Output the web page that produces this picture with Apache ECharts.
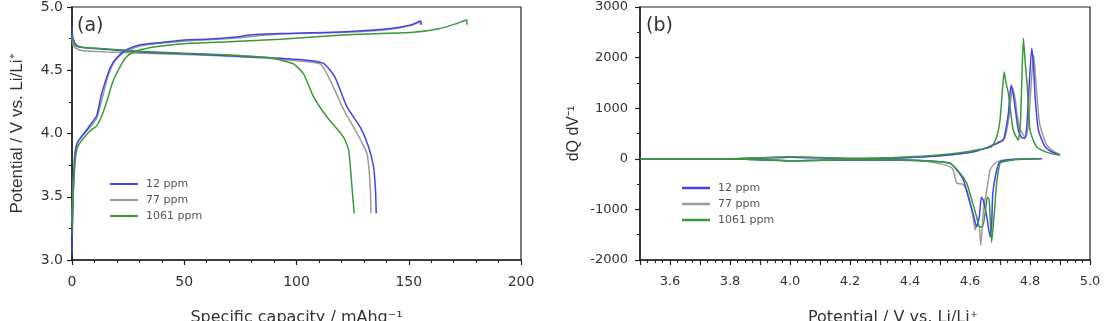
<!DOCTYPE html>
<html>
<head>
<meta charset="utf-8">
<script src="https://cdn.jsdelivr.net/npm/echarts@6/dist/echarts.min.js"></script>
<style>
  html, body { margin: 0; padding: 0; background: #fff; }
  #chart { width: 1107px; height: 321px; }
</style>
</head>
<body>
<div id="chart"></div>
<script>
/* global echarts */

// 图例名称
const NAMES = ['12 ppm', '77 ppm', '1061 ppm'];

// (a) 充放电曲线：[比容量 mAh/g, 电位 V]
const CHG_12 = [[0, 3.05], [0.5, 3.5], [1.2, 3.8], [2.2, 3.92], [4, 3.97], [7, 4.04], [9, 4.09], [11, 4.14], [13, 4.3], [15, 4.42], [17, 4.52], [20, 4.6], [24, 4.66], [30, 4.7], [40, 4.72], [50, 4.74], [60, 4.745], [72, 4.76], [80, 4.78], [93, 4.79], [122, 4.805], [142, 4.83], [151, 4.857], [155.3, 4.89], [155.6, 4.86]];
const CHG_77 = [[0, 3.3], [0.5, 3.6], [1.3, 3.85], [2.5, 3.93], [5, 3.99], [8, 4.05], [11, 4.12], [13.5, 4.28], [16, 4.45], [19, 4.57], [23, 4.64], [30, 4.69], [40, 4.715], [50, 4.73], [70, 4.75], [88, 4.78], [100, 4.79], [122, 4.8], [142, 4.825], [151, 4.855], [155, 4.88], [155.3, 4.86]];
const CHG_1061 = [[0, 3.2], [0.5, 3.5], [1.5, 3.8], [2.6, 3.9], [5, 3.96], [8, 4.02], [11, 4.06], [13.5, 4.15], [15.6, 4.26], [18, 4.4], [21.5, 4.53], [24, 4.6], [27, 4.64], [35, 4.68], [50, 4.71], [70, 4.725], [93, 4.745], [122, 4.78], [152, 4.8], [164, 4.83], [171.5, 4.87], [175.8, 4.897], [176, 4.86]];

const DIS_12 = [[0, 4.84], [0.5, 4.75], [2, 4.7], [5, 4.68], [15, 4.665], [30, 4.645], [50, 4.63], [70, 4.615], [87, 4.6], [93, 4.594], [104.7, 4.58], [112, 4.555], [117, 4.45], [122.5, 4.21], [128.4, 4.05], [132, 3.9], [134.3, 3.74], [135.2, 3.55], [135.5, 3.37]];
const DIS_77 = [[0, 4.76], [0.5, 4.7], [2, 4.67], [5, 4.655], [15, 4.645], [30, 4.635], [50, 4.625], [70, 4.61], [87, 4.595], [100, 4.575], [110.6, 4.55], [115, 4.42], [121, 4.19], [127, 4.0], [131.4, 3.84], [132.8, 3.6], [133.2, 3.37]];
const DIS_1061 = [[0, 4.78], [0.5, 4.72], [2, 4.69], [5, 4.68], [15, 4.67], [30, 4.65], [50, 4.635], [70, 4.62], [87, 4.6], [92.8, 4.58], [98.7, 4.55], [103.2, 4.47], [107.6, 4.29], [113.6, 4.13], [121, 3.97], [123.2, 3.87], [124.7, 3.58], [125.7, 3.37]];

// (b) 微分容量曲线：[电位 V, dQ/dV]
const DQ_CHG_12 = [[3.5, 0], [3.8, 0], [3.9, 15], [4.0, 30], [4.1, 20], [4.2, 5], [4.3, 10], [4.4, 25], [4.5, 60], [4.58, 110], [4.62, 150], [4.656, 220], [4.69, 300], [4.711, 372], [4.72, 600], [4.728, 899], [4.737, 1458], [4.745, 1250], [4.75, 1030], [4.761, 569], [4.772, 420], [4.783, 405], [4.79, 700], [4.797, 1425], [4.806, 2184], [4.812, 1800], [4.817, 1227], [4.828, 569], [4.85, 240], [4.875, 130], [4.9, 75]];
const DQ_CHG_77 = [[3.5, 0], [3.8, 0], [3.9, 15], [4.0, 30], [4.1, 20], [4.2, 5], [4.3, 10], [4.4, 25], [4.5, 60], [4.58, 110], [4.62, 150], [4.66, 230], [4.69, 320], [4.715, 400], [4.728, 750], [4.742, 1400], [4.75, 1200], [4.765, 600], [4.785, 420], [4.795, 700], [4.803, 1400], [4.812, 2050], [4.82, 1500], [4.832, 700], [4.855, 280], [4.88, 140], [4.9, 80]];
const DQ_CHG_1061 = [[3.5, 0], [3.8, 0], [3.9, 20], [4.0, 40], [4.1, 25], [4.2, 5], [4.3, 15], [4.4, 40], [4.533, 97], [4.6, 150], [4.644, 198], [4.672, 240], [4.689, 437], [4.7, 767], [4.709, 1425], [4.714, 1721], [4.72, 1500], [4.728, 1294], [4.744, 569], [4.761, 372], [4.768, 700], [4.773, 1600], [4.778, 2381], [4.784, 1900], [4.791, 1425], [4.8, 569], [4.822, 240], [4.867, 107], [4.9, 75]];

const DQ_DIS_12 = [[4.84, 0], [4.75, -10], [4.7, -60], [4.689, -221], [4.676, -682], [4.672, -1342], [4.667, -1540], [4.656, -1144], [4.644, -814], [4.638, -760], [4.631, -1144], [4.622, -1342], [4.611, -1100], [4.594, -749], [4.578, -419], [4.556, -221], [4.533, -89], [4.45, -40], [4.3, -20], [4.1, -30], [4.0, -40], [3.9, -20], [3.8, 0], [3.5, 0]];
const DQ_DIS_77 = [[4.8, 0], [4.72, -20], [4.69, -60], [4.678, -120], [4.667, -221], [4.656, -617], [4.645, -1000], [4.636, -1704], [4.63, -1300], [4.622, -1300], [4.617, -1407], [4.61, -1144], [4.6, -850], [4.589, -617], [4.575, -500], [4.556, -484], [4.544, -221], [4.533, -155], [4.5, -100], [4.45, -50], [4.3, -20], [4.0, -40], [3.8, 0], [3.5, 0]];
const DQ_DIS_1061 = [[4.833, 0], [4.75, -20], [4.711, -60], [4.7, -89], [4.689, -484], [4.68, -1144], [4.672, -1650], [4.664, -814], [4.658, -760], [4.652, -1000], [4.642, -1342], [4.631, -1342], [4.622, -1144], [4.606, -814], [4.589, -484], [4.567, -287], [4.533, -89], [4.45, -40], [4.3, -20], [4.1, -30], [4.0, -40], [3.9, -20], [3.8, 0], [3.5, 0]];

const COLORS = { '12 ppm': '#4343e8', '77 ppm': '#9a9a9a', '1061 ppm': '#3a983a' };

const AXIS_COLOR = '#222';
const LABEL_COLOR = '#333';
const FONT = '"DejaVu Sans", sans-serif';

function curve(name, data, idx) {
  return {
    name,
    type: 'line',
    xAxisIndex: idx,
    yAxisIndex: idx,
    data,
    symbol: 'none',
    smooth: 0.2,
    lineStyle: { color: COLORS[name], width: 1.5 },
    itemStyle: { color: COLORS[name] },
  };
}

function axisCommon(fontSize, margin) {
  return {
    axisLine: { onZero: false, lineStyle: { color: AXIS_COLOR, width: 1.5 } },
    axisTick: { length: 5, lineStyle: { color: AXIS_COLOR, width: 1.2 } },
    minorTick: { show: true, length: 3, lineStyle: { color: AXIS_COLOR, width: 1 } },
    splitLine: { show: false },
    axisLabel: { color: LABEL_COLOR, fontSize, fontFamily: FONT, margin },
    nameLocation: 'middle',
  };
}

function legend(left, top, gap, h) {
  return {
    orient: 'vertical',
    left, top,
    data: NAMES,
    icon: 'rect',
    itemWidth: 28,
    itemHeight: h,
    itemGap: gap,
    selectedMode: false,
    textStyle: { fontSize: 11, fontFamily: FONT, color: '#555', lineHeight: 12, padding: [0, 0, 0, 3] },
  };
}

const chart = echarts.init(document.getElementById('chart'));
const leftX = axisCommon(14, 15);
const leftY = axisCommon(14, 9);
const rightX = axisCommon(13, 15);
const rightY = axisCommon(13, 12);

chart.setOption({
  animation: false,
  backgroundColor: '#fff',
  grid: [
    { left: 72, top: 7, width: 449, height: 253, show: true, borderColor: AXIS_COLOR, borderWidth: 1.2, outerBoundsMode: 'none' },
    { left: 640, top: 7, width: 450, height: 253, show: true, borderColor: AXIS_COLOR, borderWidth: 1.2, outerBoundsMode: 'none' },
  ],
  legend: [legend(105, 173, 4, 2), legend(677, 177, 4, 2.5)],
  xAxis: [
    {
      ...leftX, type: 'value', gridIndex: 0, min: 0, max: 200, interval: 50,
      minorTick: { ...leftX.minorTick, splitNumber: 5 },
      name: 'Specific capacity / mAhg⁻¹', nameGap: 50,
      nameTextStyle: { fontSize: 16, fontFamily: FONT, color: LABEL_COLOR },
    },
    {
      ...rightX, type: 'value', gridIndex: 1, min: 3.5, max: 5.0, interval: 0.1,
      minorTick: { ...rightX.minorTick, splitNumber: 4 },
      axisLabel: {
        ...rightX.axisLabel,
        formatter: (v) => (Math.round(v * 10) % 2 === 0 ? v.toFixed(1) : ''),
      },
      name: 'Potential / V vs. Li/Li⁺', nameGap: 50,
      nameTextStyle: { fontSize: 16, fontFamily: FONT, color: LABEL_COLOR, padding: [0, 0, 0, 56] },
    },
  ],
  yAxis: [
    {
      ...leftY, type: 'value', gridIndex: 0, min: 3, max: 5, interval: 0.5,
      minorTick: { ...leftY.minorTick, splitNumber: 2 },
      axisLabel: { ...leftY.axisLabel, formatter: (v) => v.toFixed(1) },
      name: 'Potential / V vs. Li/Li⁺', nameGap: 46,
      nameTextStyle: { fontSize: 17, fontFamily: '"Liberation Sans", Arial, sans-serif', color: LABEL_COLOR },
    },
    {
      ...rightY, type: 'value', gridIndex: 1, min: -2000, max: 3000, interval: 1000,
      minorTick: { ...rightY.minorTick, splitNumber: 2 },
      axisLabel: { ...rightY.axisLabel, formatter: (v) => String(v) },
      name: 'dQ dV⁻¹', nameGap: 58,
      nameTextStyle: { fontSize: 16, fontFamily: '"Liberation Sans", Arial, sans-serif', color: LABEL_COLOR },
    },
  ],
  graphic: [
    { type: 'text', left: 77, top: 17, style: { text: '(a)', fontSize: 19, fontFamily: FONT, fill: '#333' } },
    { type: 'text', left: 646, top: 17, style: { text: '(b)', fontSize: 19, fontFamily: FONT, fill: '#333' } },
  ],
  series: [
    curve('77 ppm', CHG_77, 0),
    curve('77 ppm', DIS_77, 0),
    curve('12 ppm', CHG_12, 0),
    curve('12 ppm', DIS_12, 0),
    curve('1061 ppm', CHG_1061, 0),
    curve('1061 ppm', DIS_1061, 0),
    curve('77 ppm', DQ_CHG_77, 1),
    curve('77 ppm', DQ_DIS_77, 1),
    curve('12 ppm', DQ_CHG_12, 1),
    curve('12 ppm', DQ_DIS_12, 1),
    curve('1061 ppm', DQ_CHG_1061, 1),
    curve('1061 ppm', DQ_DIS_1061, 1),
  ],
});
</script>
</body>
</html>
